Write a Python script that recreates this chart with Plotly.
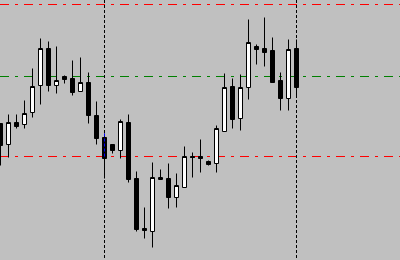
import plotly.graph_objects as go

# bar index (one per candle) and OHLC prices (arbitrary price units, no axis shown)
bars = list(range(38))
opens = [137, 116, 138, 136, 148, 175, 212, 175, 184, 182, 169, 178, 145, 123, 116, 110,
         138, 82, 32, 29, 81, 82, 63, 73, 104, 104, 99, 97, 129, 174, 142, 173, 214, 212,
         210, 180, 162, 212]
highs = [137, 146, 146, 160, 192, 222, 219, 214, 185, 200, 203, 188, 159, 127, 116, 141,
         146, 89, 53, 98, 91, 97, 87, 114, 108, 121, 100, 135, 187, 182, 186, 241, 216, 243,
         223, 188, 221, 221]
lows = [95, 103, 132, 132, 143, 156, 169, 167, 177, 165, 169, 137, 116, 82, 107, 102,
        78, 29, 22, 13, 81, 52, 53, 73, 83, 88, 95, 88, 129, 132, 130, 161, 196, 194,
        178, 150, 150, 165]
closes = [115, 138, 134, 147, 174, 212, 175, 180, 181, 168, 178, 145, 122, 102, 110, 139,
          81, 31, 30, 83, 83, 63, 75, 104, 103, 102, 96, 132, 173, 141, 173, 218, 211, 208,
          178, 162, 211, 173]

# horizontal levels and vertical markers
red_levels = [256, 104]
green_levels = [184]
vline_bars = [13, 37]
highlight_bar = 13
highlight_span = [127, 102]

fig = go.Figure()
fig.add_trace(go.Candlestick(
    x=bars, open=opens, high=highs, low=lows, close=closes,
    increasing=dict(fillcolor="#FFFFFF", line=dict(color="#000000", width=1)),
    decreasing=dict(fillcolor="#000000", line=dict(color="#000000", width=1)),
    whiskerwidth=0, showlegend=False, hoverinfo="skip",
))

shapes = []
dashdot = "9px,6px,3px,6px"
for lv in red_levels:
    shapes.append(dict(type="line", xref="paper", x0=0, x1=1, yref="y", y0=lv, y1=lv,
                       line=dict(color="#FF0000", width=1, dash=dashdot), layer="below"))
for lv in green_levels:
    shapes.append(dict(type="line", xref="paper", x0=0, x1=1, yref="y", y0=lv, y1=lv,
                       line=dict(color="#008000", width=1, dash=dashdot), layer="below"))
for b in vline_bars:
    shapes.append(dict(type="line", xref="x", x0=b, x1=b, yref="paper", y0=1, y1=0,
                       line=dict(color="#000000", width=1, dash="3px,2px"), layer="below"))
shapes.append(dict(type="line", xref="x", x0=highlight_bar, x1=highlight_bar, yref="y",
                   y0=highlight_span[0], y1=highlight_span[1],
                   line=dict(color="#0000FF", width=1, dash="3px,2px"), layer="above"))

fig.update_layout(
    width=400, height=260,
    margin=dict(l=0, r=0, t=0, b=0, pad=0),
    paper_bgcolor="#C0C0C0", plot_bgcolor="#C0C0C0",
    boxgap=0.5, boxgroupgap=0,
    shapes=shapes,
    showlegend=False,
    xaxis=dict(range=[-0.0625, 49.9375], visible=False, showgrid=False, zeroline=False,
               rangeslider=dict(visible=False), fixedrange=True),
    yaxis=dict(range=[0.5, 260.5], visible=False, showgrid=False, zeroline=False,
               fixedrange=True),
)

fig.write_html("out.html", config={"displayModeBar": False})
